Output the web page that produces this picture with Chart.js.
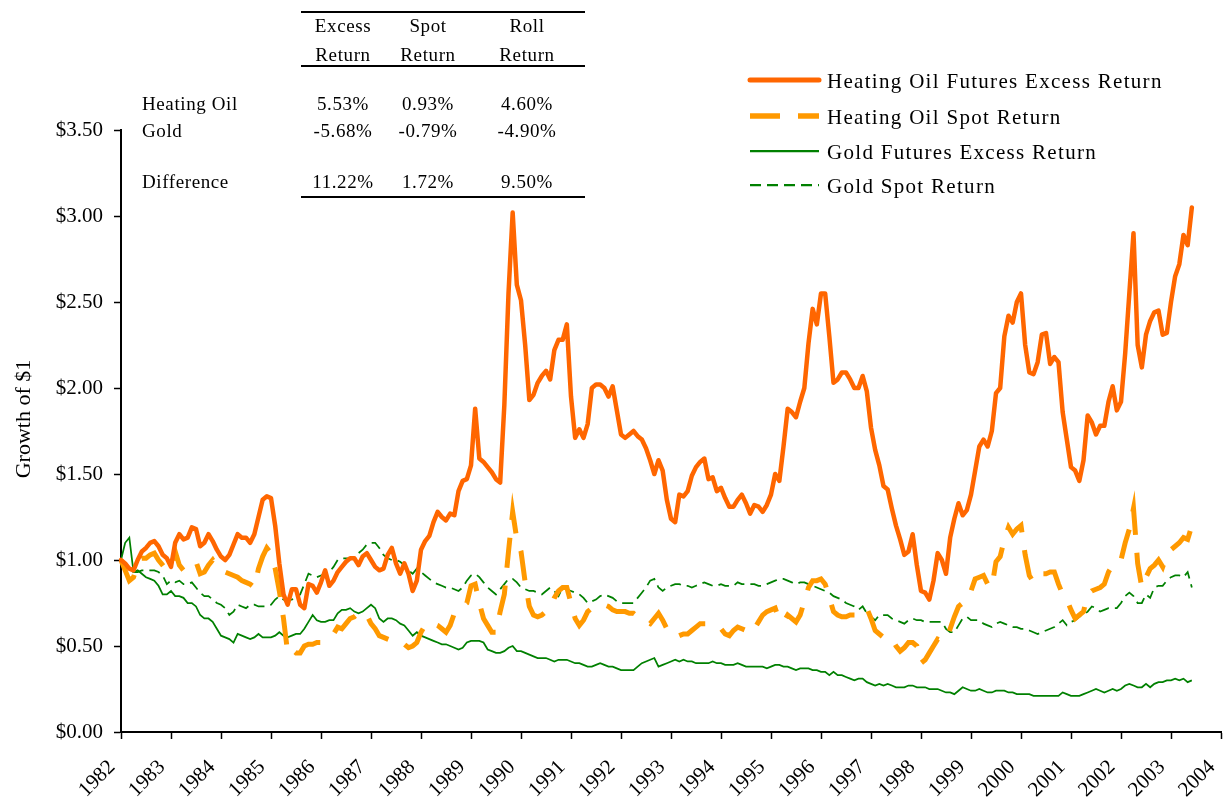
<!DOCTYPE html>
<html lang="en">
<head>
    <meta charset="UTF-8">
    <title>Heating Oil and Gold - Growth of $1</title>
    <style>
        body {
            margin: 0;
            padding: 0;
            background-color: #ffffff;
        }
        #wrap {
            position: relative;
            width: 1230px;
            height: 806px;
        }
    </style>
    <script src="https://cdn.jsdelivr.net/npm/chart.js"></script>
</head>
<body>

<div id="wrap">
    <canvas id="growthChart" width="1230" height="806"></canvas>
</div>

<script>
    // Years on the x axis (one tick per January)
    const years = [1982, 1983, 1984, 1985, 1986, 1987, 1988, 1989, 1990, 1991, 1992, 1993,
                   1994, 1995, 1996, 1997, 1998, 1999, 2000, 2001, 2002, 2003, 2004];

    const seriesNames = [
        'Heating Oil Futures Excess Return',
        'Heating Oil Spot Return',
        'Gold Futures Excess Return',
        'Gold Spot Return'
    ];

    // Monthly growth of $1, Jan 1982 - Jun 2003 (one line per year)
    const hoExcess = [
        1.00, 0.98, 0.95, 0.94, 1.00, 1.05, 1.07, 1.10, 1.11, 1.08, 1.03, 1.01,
        0.96, 1.10, 1.15, 1.12, 1.13, 1.19, 1.18, 1.08, 1.10, 1.15, 1.11, 1.06,
        1.02, 1.00, 1.03, 1.09, 1.15, 1.13, 1.13, 1.10, 1.15, 1.25, 1.35, 1.37,
        1.36, 1.20, 0.98, 0.80, 0.74, 0.83, 0.83, 0.74, 0.72, 0.86, 0.85, 0.81,
        0.87, 0.94, 0.85, 0.88, 0.93, 0.96, 0.99, 1.01, 1.01, 0.97, 1.02, 1.04,
        1.00, 0.96, 0.94, 0.95, 1.03, 1.07, 0.98, 0.92, 0.98, 0.92, 0.82, 0.88,
        1.06, 1.11, 1.14, 1.22, 1.28, 1.25, 1.23, 1.27, 1.26, 1.40, 1.46, 1.47,
        1.55, 1.88, 1.59, 1.57, 1.54, 1.51, 1.47, 1.45, 1.90, 2.55, 3.02, 2.60,
        2.51, 2.25, 1.93, 1.96, 2.03, 2.07, 2.10, 2.05, 2.22, 2.28, 2.28, 2.37,
        1.95, 1.71, 1.76, 1.71, 1.79, 2.00, 2.02, 2.02, 2.00, 1.95, 2.01, 1.87,
        1.73, 1.71, 1.73, 1.75, 1.72, 1.70, 1.65, 1.58, 1.50, 1.58, 1.52, 1.35,
        1.24, 1.22, 1.38, 1.37, 1.40, 1.49, 1.54, 1.57, 1.59, 1.47, 1.48, 1.40,
        1.42, 1.36, 1.31, 1.31, 1.35, 1.38, 1.33, 1.27, 1.32, 1.31, 1.28, 1.32,
        1.38, 1.50, 1.46, 1.66, 1.88, 1.86, 1.83, 1.92, 2.00, 2.26, 2.46, 2.37,
        2.55, 2.55, 2.30, 2.03, 2.05, 2.09, 2.09, 2.05, 2.00, 2.00, 2.07, 1.98,
        1.77, 1.64, 1.55, 1.43, 1.41, 1.30, 1.20, 1.12, 1.03, 1.05, 1.15, 0.97,
        0.82, 0.81, 0.77, 0.88, 1.04, 1.00, 0.92, 1.13, 1.24, 1.33, 1.26, 1.29,
        1.38, 1.52, 1.66, 1.70, 1.66, 1.75, 1.97, 2.00, 2.30, 2.42, 2.38, 2.50,
        2.55, 2.25, 2.09, 2.08, 2.15, 2.31, 2.32, 2.14, 2.18, 2.15, 1.86, 1.70,
        1.54, 1.52, 1.46, 1.58, 1.84, 1.80, 1.73, 1.78, 1.78, 1.92, 2.01, 1.87,
        1.92, 2.20, 2.55, 2.90, 2.25, 2.12, 2.31, 2.39, 2.44, 2.45, 2.31, 2.32,
        2.50, 2.65, 2.72, 2.89, 2.83, 3.05
    ];

    const hoSpot = [
        1.00, 0.94, 0.88, 0.90, 0.97, 1.01, 1.01, 1.03, 1.04, 1.00, 0.97, 0.94,
        0.96, 1.05, 0.97, 0.94, 0.96, 0.98, 0.99, 0.92, 0.93, 0.97, 1.00, 0.96,
        0.94, 0.93, 0.92, 0.91, 0.90, 0.88, 0.87, 0.86, 0.84, 0.95, 1.02, 1.07,
        1.04, 0.95, 0.82, 0.66, 0.46, 0.48, 0.46, 0.46, 0.50, 0.51, 0.51, 0.52,
        0.52, 0.53, 0.54, 0.57, 0.61, 0.60, 0.63, 0.66, 0.67, 0.69, 0.70, 0.68,
        0.63, 0.60, 0.56, 0.55, 0.54, 0.53, 0.53, 0.53, 0.51, 0.49, 0.50, 0.52,
        0.58, 0.62, 0.64, 0.63, 0.62, 0.60, 0.58, 0.62, 0.69, 0.72, 0.73, 0.75,
        0.85, 0.86, 0.75, 0.66, 0.62, 0.58, 0.58, 0.70, 0.80, 1.05, 1.28, 1.12,
        1.05, 0.87, 0.73, 0.68, 0.67, 0.68, 0.70, 0.72, 0.78, 0.82, 0.84, 0.84,
        0.75, 0.66, 0.62, 0.65, 0.70, 0.72, 0.73, 0.74, 0.74, 0.73, 0.71, 0.70,
        0.70, 0.70, 0.69, 0.69, 0.67, 0.66, 0.64, 0.63, 0.66, 0.69, 0.65, 0.60,
        0.57, 0.55, 0.56, 0.57, 0.57, 0.59, 0.61, 0.63, 0.63, 0.63, 0.61, 0.60,
        0.60, 0.57, 0.56, 0.59, 0.61, 0.60, 0.59, 0.57, 0.60, 0.64, 0.68, 0.70,
        0.71, 0.72, 0.65, 0.64, 0.68, 0.66, 0.64, 0.68, 0.76, 0.84, 0.88, 0.88,
        0.89, 0.86, 0.78, 0.70, 0.68, 0.67, 0.67, 0.68, 0.68, 0.68, 0.70, 0.72,
        0.66, 0.59, 0.57, 0.55, 0.53, 0.54, 0.50, 0.47, 0.49, 0.52, 0.52, 0.50,
        0.40, 0.42, 0.46, 0.50, 0.54, 0.53, 0.53, 0.60, 0.67, 0.73, 0.75, 0.76,
        0.82, 0.89, 0.90, 0.91, 0.86, 0.84, 0.99, 1.02, 1.12, 1.19, 1.15, 1.18,
        1.20, 1.03, 0.91, 0.87, 0.91, 0.92, 0.92, 0.93, 0.93, 0.86, 0.80, 0.77,
        0.71, 0.66, 0.68, 0.70, 0.80, 0.82, 0.83, 0.84, 0.86, 0.93, 0.97, 0.97,
        1.00, 1.10, 1.18, 1.30, 0.98, 0.84, 0.90, 0.95, 0.97, 1.00, 0.96, 1.03,
        1.06, 1.08, 1.10, 1.13, 1.12, 1.20
    ];

    const goldExcess = [
        1.00, 1.10, 1.13, 0.93, 0.94, 0.92, 0.90, 0.89, 0.88, 0.85, 0.80, 0.80,
        0.82, 0.79, 0.79, 0.78, 0.75, 0.75, 0.73, 0.68, 0.66, 0.66, 0.64, 0.60,
        0.56, 0.55, 0.54, 0.52, 0.57, 0.56, 0.55, 0.54, 0.55, 0.57, 0.55, 0.55,
        0.55, 0.56, 0.58, 0.56, 0.55, 0.56, 0.57, 0.57, 0.60, 0.64, 0.68, 0.65,
        0.64, 0.64, 0.65, 0.65, 0.69, 0.71, 0.71, 0.72, 0.70, 0.69, 0.70, 0.72,
        0.74, 0.72, 0.66, 0.64, 0.66, 0.66, 0.65, 0.63, 0.62, 0.59, 0.56, 0.58,
        0.56, 0.55, 0.54, 0.53, 0.52, 0.51, 0.51, 0.50, 0.49, 0.48, 0.49, 0.52,
        0.53, 0.53, 0.53, 0.52, 0.48, 0.47, 0.46, 0.46, 0.47, 0.49, 0.50, 0.47,
        0.47, 0.46, 0.45, 0.44, 0.43, 0.43, 0.43, 0.42, 0.41, 0.42, 0.42, 0.42,
        0.41, 0.40, 0.40, 0.39, 0.38, 0.38, 0.39, 0.40, 0.39, 0.38, 0.38, 0.37,
        0.36, 0.36, 0.36, 0.36, 0.38, 0.40, 0.41, 0.42, 0.43, 0.38, 0.39, 0.40,
        0.41, 0.42, 0.41, 0.42, 0.41, 0.41, 0.40, 0.40, 0.40, 0.40, 0.41, 0.40,
        0.40, 0.39, 0.39, 0.39, 0.40, 0.39, 0.38, 0.38, 0.38, 0.38, 0.38, 0.37,
        0.38, 0.39, 0.39, 0.38, 0.38, 0.37, 0.36, 0.37, 0.37, 0.37, 0.36, 0.36,
        0.35, 0.35, 0.33, 0.35, 0.33, 0.33, 0.32, 0.31, 0.30, 0.31, 0.31, 0.29,
        0.28, 0.27, 0.28, 0.27, 0.28, 0.27, 0.26, 0.26, 0.26, 0.27, 0.27, 0.26,
        0.26, 0.26, 0.25, 0.25, 0.25, 0.24, 0.23, 0.23, 0.22, 0.24, 0.26, 0.25,
        0.24, 0.24, 0.25, 0.24, 0.23, 0.23, 0.24, 0.24, 0.24, 0.23, 0.23, 0.22,
        0.22, 0.22, 0.22, 0.21, 0.21, 0.21, 0.21, 0.21, 0.21, 0.21, 0.23, 0.22,
        0.21, 0.21, 0.21, 0.22, 0.23, 0.24, 0.25, 0.24, 0.23, 0.24, 0.25, 0.24,
        0.25, 0.27, 0.28, 0.27, 0.26, 0.26, 0.28, 0.26, 0.28, 0.29, 0.29, 0.30,
        0.30, 0.31, 0.30, 0.31, 0.29, 0.30
    ];

    const goldSpot = [
        1.00, 0.97, 0.94, 0.93, 0.93, 0.94, 0.94, 0.94, 0.94, 0.93, 0.91, 0.86,
        0.88, 0.87, 0.88, 0.86, 0.86, 0.87, 0.84, 0.81, 0.79, 0.79, 0.77, 0.75,
        0.74, 0.72, 0.68, 0.70, 0.74, 0.73, 0.72, 0.74, 0.74, 0.73, 0.73, 0.73,
        0.74, 0.77, 0.79, 0.77, 0.77, 0.77, 0.78, 0.80, 0.86, 0.92, 0.91, 0.90,
        0.91, 0.92, 0.93, 0.96, 1.00, 1.01, 1.01, 1.01, 1.02, 1.04, 1.06, 1.09,
        1.10, 1.10, 1.07, 1.03, 1.01, 1.00, 1.00, 0.99, 0.97, 0.94, 0.92, 0.95,
        0.93, 0.91, 0.89, 0.87, 0.86, 0.85, 0.84, 0.84, 0.83, 0.82, 0.84, 0.88,
        0.91, 0.92, 0.90, 0.87, 0.84, 0.82, 0.80, 0.83, 0.86, 0.89, 0.89, 0.87,
        0.84, 0.83, 0.82, 0.82, 0.81, 0.80, 0.82, 0.84, 0.82, 0.79, 0.84, 0.83,
        0.82, 0.81, 0.80, 0.78, 0.75, 0.76, 0.77, 0.79, 0.80, 0.79, 0.78, 0.76,
        0.75, 0.75, 0.75, 0.75, 0.78, 0.81, 0.84, 0.88, 0.89, 0.84, 0.82, 0.84,
        0.85, 0.86, 0.86, 0.85, 0.85, 0.84, 0.85, 0.86, 0.87, 0.86, 0.85, 0.85,
        0.86, 0.85, 0.85, 0.85, 0.87, 0.86, 0.86, 0.86, 0.86, 0.85, 0.85, 0.86,
        0.87, 0.88, 0.89, 0.89, 0.88, 0.87, 0.86, 0.87, 0.87, 0.86, 0.85, 0.84,
        0.83, 0.82, 0.81, 0.79, 0.78, 0.77, 0.75, 0.74, 0.73, 0.71, 0.73, 0.69,
        0.67, 0.65, 0.68, 0.68, 0.68, 0.66, 0.65, 0.64, 0.63, 0.65, 0.66, 0.65,
        0.65, 0.64, 0.64, 0.64, 0.64, 0.64, 0.60, 0.58, 0.58, 0.62, 0.66, 0.67,
        0.65, 0.65, 0.65, 0.63, 0.62, 0.61, 0.63, 0.64, 0.63, 0.62, 0.61, 0.61,
        0.60, 0.60, 0.59, 0.58, 0.57, 0.58, 0.59, 0.60, 0.61, 0.63, 0.65, 0.62,
        0.64, 0.65, 0.67, 0.68, 0.70, 0.73, 0.72, 0.70, 0.71, 0.72, 0.72, 0.72,
        0.75, 0.79, 0.81, 0.79, 0.75, 0.75, 0.80, 0.78, 0.84, 0.85, 0.85, 0.88,
        0.90, 0.91, 0.91, 0.90, 0.93, 0.84
    ];

    // Annualised returns table drawn in the top-left corner
    const tableHeads = [['Excess', 'Return'], ['Spot', 'Return'], ['Roll', 'Return']];
    const tableRows = ['Heating Oil', 'Gold', 'Difference'];
    const tableValues = [
        ['5.53%', '0.93%', '4.60%'],
        ['-5.68%', '-0.79%', '-4.90%'],
        ['11.22%', '1.72%', '9.50%']
    ];

    const yTitle = 'Growth of $1';
    const serif = '"Liberation Serif", "Times New Roman", serif';

    // month labels, Jan of first year through Jan of last year
    const months = [];
    years.forEach(y => {
        for (let m = 1; m <= 12; m++) {
            months.push(y + '-' + String(m).padStart(2, '0'));
        }
    });
    months.length = (years.length - 1) * 12 + 1;

    // draws axis title, returns table and legend on the canvas
    const overlay = {
        id: 'overlay',
        afterDraw(chart) {
            const c = chart.ctx;
            c.save();
            c.fillStyle = '#000';
            c.strokeStyle = '#000';

            // y axis title
            c.font = '22px ' + serif;
            c.textAlign = 'center';
            c.textBaseline = 'middle';
            c.save();
            c.translate(24, 419);
            c.rotate(-Math.PI / 2);
            c.fillText(yTitle, 0, 0);
            c.restore();

            // table rules
            c.lineWidth = 2;
            [12, 66, 197].forEach(y => {
                c.beginPath();
                c.moveTo(301, y);
                c.lineTo(585, y);
                c.stroke();
            });

            // table text
            c.font = '19px ' + serif;
            c.letterSpacing = '0.6px';
            c.textBaseline = 'alphabetic';
            const colX = [343, 428, 527];
            tableHeads.forEach((h, i) => {
                c.textAlign = 'center';
                c.fillText(h[0], colX[i], 32);
                c.fillText(h[1], colX[i], 61);
            });
            const rowY = [110, 137, 188];
            tableRows.forEach((name, r) => {
                c.textAlign = 'left';
                c.fillText(name, 142, rowY[r]);
                c.textAlign = 'center';
                tableValues[r].forEach((v, i) => c.fillText(v, colX[i], rowY[r]));
            });

            // legend
            const legY = [80, 116, 151, 185];
            c.font = '21px ' + serif;
            c.letterSpacing = '1.3px';
            c.textAlign = 'left';
            chart.data.datasets.forEach((ds, i) => {
                c.save();
                c.strokeStyle = ds.borderColor;
                c.lineWidth = ds.borderWidth + 0.5;
                c.lineCap = ds.borderCapStyle || 'butt';
                c.setLineDash(ds.borderDash || []);
                c.beginPath();
                c.moveTo(750, legY[i]);
                c.lineTo(819, legY[i]);
                c.stroke();
                c.restore();
                c.fillText(ds.label, 827, legY[i] + 8);
            });

            c.restore();
        }
    };

    const axisGrid = {
        display: true,
        drawOnChartArea: false,
        drawTicks: true,
        tickLength: 7,
        tickColor: '#000',
        tickWidth: 1.5
    };

    new Chart(document.getElementById('growthChart').getContext('2d'), {
        type: 'line',
        data: {
            labels: months,
            datasets: [
                {
                    label: seriesNames[0],
                    data: hoExcess,
                    borderColor: '#FF6600',
                    borderWidth: 4.5,
                    borderCapStyle: 'round',
                    borderJoinStyle: 'round'
                },
                {
                    label: seriesNames[1],
                    data: hoSpot,
                    borderColor: '#FF9900',
                    borderWidth: 5,
                    borderDash: [30, 18]
                },
                {
                    label: seriesNames[2],
                    data: goldExcess,
                    borderColor: '#008000',
                    borderWidth: 1.75
                },
                {
                    label: seriesNames[3],
                    data: goldSpot,
                    borderColor: '#008000',
                    borderWidth: 1.75,
                    borderDash: [11, 6]
                }
            ]
        },
        options: {
            responsive: false,
            animation: false,
            layout: { padding: { top: 130, right: 9, left: 0, bottom: 0 } },
            elements: {
                point: { radius: 0 },
                line: { tension: 0 }
            },
            plugins: {
                legend: { display: false },
                tooltip: { enabled: false }
            },
            scales: {
                x: {
                    type: 'category',
                    grid: axisGrid,
                    border: { display: true, color: '#000', width: 2 },
                    ticks: {
                        autoSkip: false,
                        minRotation: 45,
                        maxRotation: 45,
                        padding: 16,
                        labelOffset: -9,
                        color: '#000',
                        font: { family: serif, size: 21 },
                        callback(value) {
                            return this.getLabelForValue(value).slice(0, 4);
                        }
                    },
                    afterBuildTicks(axis) {
                        axis.ticks = axis.ticks.filter(t => t.value % 12 === 0);
                    },
                    afterFit(axis) {
                        axis.height = 74;
                        axis.paddingLeft = 0;
                        axis.paddingRight = 0;
                    }
                },
                y: {
                    min: 0,
                    max: 3.5,
                    grid: axisGrid,
                    border: { display: true, color: '#000', width: 2 },
                    ticks: {
                        stepSize: 0.5,
                        padding: 11,
                        color: '#000',
                        font: { family: serif, size: 21 },
                        callback: v => '$' + v.toFixed(2)
                    },
                    afterFit(axis) {
                        axis.width = 121;
                    }
                }
            }
        },
        plugins: [overlay]
    });
</script>

</body>
</html>
